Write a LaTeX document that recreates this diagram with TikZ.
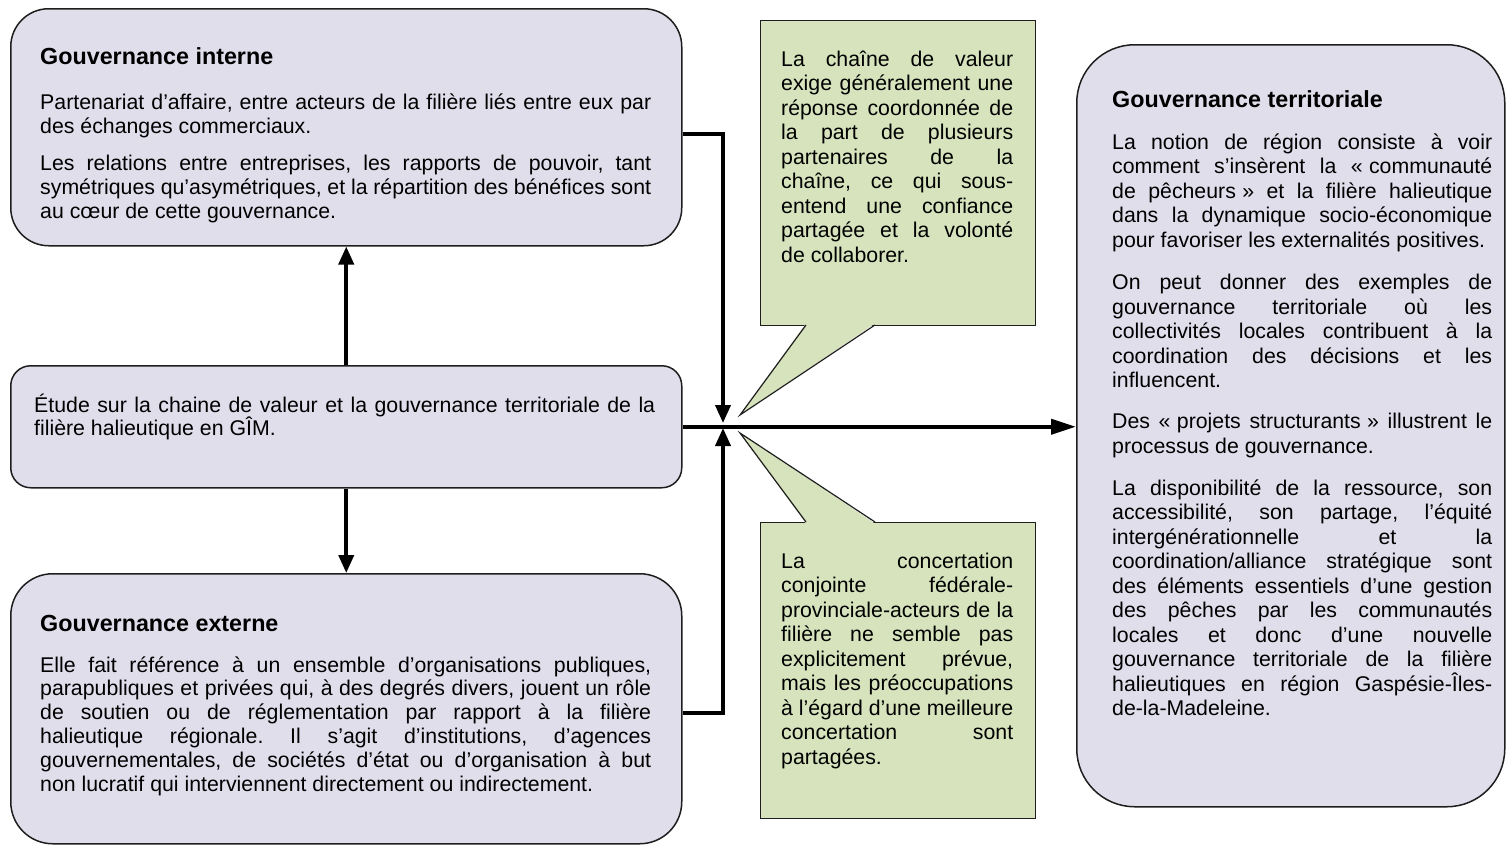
\documentclass[tikz,border=0pt]{standalone}
\usepackage{fontspec}
\setmainfont{Liberation Sans}
\usetikzlibrary{arrows.meta}
\definecolor{lav}{RGB}{225,222,236}
\definecolor{grn}{RGB}{214,227,188}
\definecolor{edge}{RGB}{30,30,30}
\frenchspacing
\newcommand{\bodyL}{\fontsize{21.3}{23.8}\selectfont\frenchspacing\hyphenpenalty=10000 \tolerance=10000 \hbadness=10000 }
\newcommand{\bodyR}{\fontsize{21.3}{24.5}\selectfont\frenchspacing\hyphenpenalty=10000 \tolerance=10000 \hbadness=10000 }
\newcommand{\ttl}[1]{{\fontsize{23.3}{28}\selectfont\bfseries #1\par}}
\newcommand{\gsp}{\hspace{0.3em}}
\begin{document}
\begin{tikzpicture}[x=1pt,y=-1pt,
  lavbox/.style={draw=edge, line width=1.5pt, fill=lav, anchor=north west, inner sep=0pt},
  callbox/.style={draw=edge, line width=1.2pt, fill=grn, anchor=north west, inner sep=0pt},
  calline/.style={draw=edge, line width=1.2pt},
  txtL/.style={anchor=base west, inner sep=0pt, text width=611pt, align=justify, font=\bodyL},
  txtR/.style={anchor=base west, inner sep=0pt, text width=380pt, align=justify, font=\bodyR},
  txtC/.style={anchor=base west, inner sep=0pt, text width=232pt, align=justify, font=\bodyR},
  arr/.style={line width=3.8pt, -{Triangle[length=18pt,width=15pt]}},
  arrlong/.style={line width=3.8pt, -{Triangle[length=25pt,width=15pt]}}
]
\useasboundingbox (0,0) rectangle (1506,846);

% boxes
\node[lavbox, rounded corners=38pt, minimum width=671pt, minimum height=237pt] (gi) at (10,8) {};
\node[lavbox, rounded corners=20pt, minimum width=671pt, minimum height=122pt] (etude) at (10,365) {};
\node[lavbox, rounded corners=42pt, minimum width=671pt, minimum height=270pt] (ge) at (10,573) {};
\node[lavbox, rounded corners=58pt, minimum width=428pt, minimum height=762pt] (terr) at (1076,44) {};

% callouts
\node[callbox, minimum width=275pt, minimum height=305pt] (c1) at (760,20) {};
\fill[grn] (806,323.4) -- (740,415) -- (875,323.4) -- cycle;
\draw[calline] (806,325) -- (740,415) -- (875,325);
\node[callbox, minimum width=275pt, minimum height=296pt] (c2) at (760,522) {};
\fill[grn] (806,523.6) -- (740,433) -- (875,523.6) -- cycle;
\draw[calline] (806,522) -- (740,433) -- (875,522);

% connectors
\coordinate (jd) at (723,423);
\coordinate (ju) at (723,428);
\draw[arr] (etude.north) -- (gi.south);
\draw[arr] (etude.south) -- (ge.north);
\draw[arr] ([yshift=-6.5pt]gi.east) -| (jd);
\draw[arr] ([yshift=-4pt]ge.east) -| (ju);
\draw[arrlong] (etude.east) -- (etude.east -| terr.west);

% texts
\node[txtL] (gitxt) at (40,64) {\ttl{Gouvernance interne}\vspace{22pt}
Partenariat d’affaire, entre acteurs de la filière liés entre eux par\linebreak
des échanges commerciaux.\par\vspace{13.2pt}
Les relations entre entreprises, les rapports de pouvoir, tant\linebreak
symétriques qu’asymétriques, et la répartition des bénéfices sont\linebreak
au cœur de cette gouvernance.};

\node[txtL, text width=621pt] (etxt) at (34,412) {Étude sur la chaine de valeur et la gouvernance territoriale de la\linebreak
filière halieutique en GÎM.};

\node[txtL] (getxt) at (40,631) {\ttl{Gouvernance externe}\vspace{17.2pt}
Elle fait référence à un ensemble d’organisations publiques,\linebreak
parapubliques et privées qui, à des degrés divers, jouent un rôle\linebreak
de soutien ou de réglementation par rapport à la filière\linebreak
halieutique régionale. Il s’agit d’institutions, d’agences\linebreak
gouvernementales, de sociétés d’état ou d’organisation à but\linebreak
non lucratif qui interviennent directement ou indirectement.};

\node[txtC] (c1txt) at (781,66) {La chaîne de valeur\linebreak
exige généralement une\linebreak
réponse coordonnée de\linebreak
la part de plusieurs\linebreak
partenaires de la\linebreak
chaîne, ce qui sous-\linebreak
entend une confiance\linebreak
partagée et la volonté\linebreak
de collaborer.};

\node[txtC] (c2txt) at (781,568) {La concertation\linebreak
conjointe fédérale-\linebreak
provinciale-acteurs de la\linebreak
filière ne semble pas\linebreak
explicitement prévue,\linebreak
mais les préoccupations\linebreak
à l’égard d’une meilleure\linebreak
concertation sont\linebreak
partagées.};

\node[txtR] (ttxt) at (1112,107) {\ttl{Gouvernance territoriale}\vspace{17.5pt}
La notion de région consiste à voir\linebreak
comment s’insèrent la «\gsp communauté\linebreak
de pêcheurs\gsp» et la filière halieutique\linebreak
dans la dynamique socio-économique\linebreak
pour favoriser les externalités positives.\par\vspace{18pt}
On peut donner des exemples de\linebreak
gouvernance territoriale où les\linebreak
collectivités locales contribuent à la\linebreak
coordination des décisions et les\linebreak
influencent.\par\vspace{16.5pt}
Des «\gsp projets structurants\gsp» illustrent le\linebreak
processus de gouvernance.\par\vspace{17.5pt}
La disponibilité de la ressource, son\linebreak
accessibilité, son partage, l’équité\linebreak
intergénérationnelle et la\linebreak
coordination/alliance stratégique sont\linebreak
des éléments essentiels d’une gestion\linebreak
des pêches par les communautés\linebreak
locales et donc d’une nouvelle\linebreak
gouvernance territoriale de la filière\linebreak
halieutiques en région Gaspésie-Îles-\linebreak
de-la-Madeleine.};
\end{tikzpicture}
\end{document}
